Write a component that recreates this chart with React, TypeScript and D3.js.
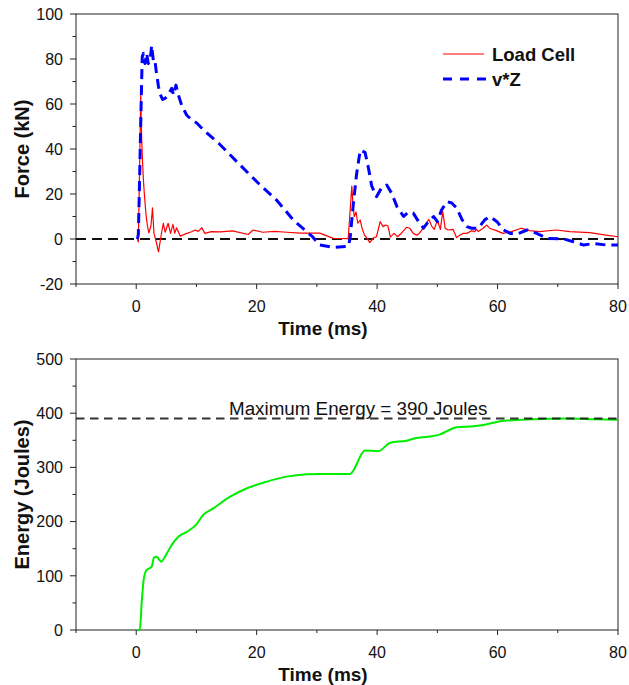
import React from "react";
import * as d3 from "d3";

// ---------- DATA ----------
const loadCellTime = [0.2, 0.35, 0.55, 0.75, 0.9, 1.05, 1.2, 1.35, 1.6, 1.85, 2.1, 2.45, 2.7, 2.95, 3.3, 3.7, 4.1, 4.5, 4.8, 5.3, 5.7, 6.1, 6.4, 6.7, 7.3, 8.4, 9.2, 9.8, 10.3, 10.9, 11.4, 12.5, 14, 16, 18.6, 19.4, 21, 23, 25, 27.2, 30.5, 32.7, 35.2, 35.8, 36.0, 36.2, 36.5, 36.8, 37.2, 37.5, 37.9, 38.3, 38.8, 39.4, 39.9, 40.5, 41, 41.4, 41.8, 42.2, 42.8, 43.4, 44.1, 44.9, 45.4, 46, 46.6, 47.1, 48, 48.6, 49.1, 49.5, 50, 50.5, 50.9, 51.3, 51.8, 52.6, 53.2, 53.7, 54.3, 54.9, 55.7, 56.2, 56.5, 56.8, 57.6, 58.2, 58.7, 59.8, 60.9, 62.3, 63.9, 65.3, 67, 69.7, 72, 75.3, 78, 80];
const loadCellForce = [0, -1.3, 30, 64, 45, 34, 26, 20, 11.5, 6, 2.7, 6, 13.8, 2.5, -1, -5.7, 1, 7, 3, 7, 2.5, 6.5, 2.6, 5, 1.3, 2.5, 3.2, 4, 3.4, 5, 2.5, 3.3, 3.2, 3.6, 2, 4, 3, 3.4, 3, 2.6, 2.6, 0.3, 0.2, 23.5, 15, 10, 12, 7, 8.4, 4.8, 1.7, 0.4, -1.6, 0.5, 1, 7.7, 5.5, 6.2, 5.8, 0.8, 2.5, 1, 2.8, 5.2, 4.8, 2.5, 1.7, 2.8, 6.2, 8.7, 5.5, 4.3, 8.4, 4.3, 12.2, 4.8, 4, 4.3, 0.6, 1.7, 2.5, 2.5, 3.7, 3.3, 4.3, 3.3, 4.8, 6.2, 4.8, 3.7, 2.5, 3.3, 4.8, 3.7, 3.3, 4, 3.3, 2.8, 1.7, 1];

const vzTime = [0.2, 0.35, 0.55, 0.7, 0.9, 1.0, 1.2, 1.46, 1.74, 2.0, 2.3, 2.57, 2.85, 3.1, 3.3, 3.7, 3.9, 4.4, 4.8, 5.3, 5.9, 6.2, 6.6, 7.0, 7.6, 8.4, 9.2, 10, 11.2, 13.9, 17.2, 20.2, 23.3, 26.1, 28.3, 29.2, 30.5, 32.7, 35.2, 35.5, 36.1, 36.6, 37.2, 38, 38.6, 39.1, 39.9, 40.8, 41.6, 42.4, 43.3, 44.4, 45.2, 46, 46.9, 47.7, 48.5, 49.4, 50, 50.7, 51.6, 52.4, 53.2, 54.1, 54.9, 55.7, 56.8, 57.9, 58.8, 59.9, 61, 62.1, 63.5, 64.9, 66.5, 68.2, 71, 72.6, 74.3, 75.9, 78.2, 80];
const vzForce = [0, 2, 25, 45, 70, 81, 82.5, 78, 82.5, 78, 79.5, 86, 79, 79.5, 75, 67.7, 64.7, 62, 62.5, 64, 67, 64, 68.4, 64, 59, 55, 53, 51.7, 48.4, 42, 33, 25, 17.3, 8.4, 3.3, 1.2, -2.7, -3.7, -3.3, 0, 17, 29, 39.5, 38.5, 31, 23.6, 18.8, 23, 24, 20.4, 14.4, 10, 12, 11.5, 7.7, 4.8, 7.7, 10, 7.7, 12.9, 16.6, 16, 13.8, 8.6, 5.5, 4.8, 4.8, 8.6, 9.9, 7.7, 4, 2.5, 2.5, 4, 2.5, 0.3, 0, -1.2, -2.7, -2, -2.7, -2.7];

const energyTime = [0.1, 0.6, 0.9, 1.3, 1.74, 2.2, 2.57, 2.96, 3.4, 3.8, 4.2, 4.6, 5.1, 5.9, 7.0, 8.4, 10, 11.1, 12.8, 15.6, 18.4, 21.7, 25, 28.3, 30.5, 33, 35.5, 38, 40.2, 42.2, 44.9, 46.3, 48.5, 50.5, 51.6, 53.2, 56, 57.9, 60.4, 63.2, 67.1, 71.5, 75.9, 80];
const energyValue = [0, 0, 49, 98, 111, 114, 117, 134, 135, 130, 126, 132, 141.6, 157, 172, 181, 195, 212, 224.5, 246, 261.5, 273.8, 283, 287.3, 288, 288, 288, 331, 330, 345.6, 349.3, 353.6, 356.7, 361, 367, 374, 376, 378.8, 385, 387.5, 389.3, 390, 389, 388];

const xTicksMajor = [0, 20, 40, 60, 80];
const xTicksMinor = [-10, 10, 30, 50, 70];
const forceTicksMajor = [-20, 0, 20, 40, 60, 80, 100];
const forceTicksMinor = [-10, 10, 30, 50, 70, 90];
const energyTicksMajor = [0, 100, 200, 300, 400, 500];
const energyTicksMinor = [50, 150, 250, 350, 450];
const maxEnergy = 390;

const legendLabels = ["Load Cell", "v*Z"];

// ---------- LAYOUT ----------
const W = 629;
const H = 685;
const left = 76;
const right = 618;
const top1 = 14;
const bot1 = 284;
const top2 = 359;
const bot2 = 630;
const FONT = "Liberation Sans, Arial, sans-serif";

export default function App() {
  const x = d3.scaleLinear().domain([-10, 80]).range([left, right]);
  const yF = d3.scaleLinear().domain([-20, 100]).range([bot1, top1]);
  const yE = d3.scaleLinear().domain([0, 500]).range([bot2, top2]);

  const lineF = (ts: number[], vs: number[]) =>
    d3.line<number>().x((_, i) => x(ts[i])).y((d) => yF(d))(vs) || "";
  const lineE =
    d3.line<number>().x((_, i) => x(energyTime[i])).y((d) => yE(d)).curve(d3.curveMonotoneX)(energyValue) || "";

  const axes = (y: d3.ScaleLinear<number, number>, bot: number, topY: number, yMaj: number[], yMin: number[], title: string) => (
    <g>
      <rect x={left} y={topY} width={right - left} height={bot - topY} fill="none" stroke="#222" strokeWidth={1} />
      {xTicksMajor.map((t) => (
        <g key={"xM" + t}>
          <line x1={x(t)} x2={x(t)} y1={bot} y2={bot + 5} stroke="#222" />
          <text x={x(t)} y={bot + 28} textAnchor="middle" fontSize={16} fontFamily={FONT} fill="#111">{t}</text>
        </g>
      ))}
      {xTicksMinor.map((t) => (
        <line key={"xm" + t} x1={x(t)} x2={x(t)} y1={bot} y2={bot + 3} stroke="#222" />
      ))}
      {yMaj.map((t) => (
        <g key={"yM" + t}>
          <line x1={left - 6} x2={left} y1={y(t)} y2={y(t)} stroke="#222" />
          <text x={63} y={y(t)} dy="0.36em" textAnchor="end" fontSize={16} fontFamily={FONT} fill="#111">{t}</text>
        </g>
      ))}
      {yMin.map((t) => (
        <line key={"ym" + t} x1={left - 3.5} x2={left} y1={y(t)} y2={y(t)} stroke="#222" />
      ))}
      <text x={(left + right) / 2 - 24} y={bot + 51} textAnchor="middle" fontSize={19} fontWeight="bold" fontFamily={FONT} fill="#111">Time (ms)</text>
      <text transform={`translate(29,${(topY + bot) / 2}) rotate(-90)`} textAnchor="middle" fontSize={20} fontWeight="bold" fontFamily={FONT} fill="#111">{title}</text>
    </g>
  );

  return (
    <svg width={W} height={H} style={{ position: "absolute", left: 0, top: 0, background: "#fff" }}>
      {/* Top panel */}
      {axes(yF, bot1, top1, forceTicksMajor, forceTicksMinor, "Force (kN)")}
      <line x1={left} x2={right} y1={yF(0)} y2={yF(0)} stroke="#111" strokeWidth={2} strokeDasharray="10,6" />
      <path d={lineF(loadCellTime, loadCellForce)} fill="none" stroke="#ff0000" strokeWidth={1.2} strokeLinejoin="round" />
      <path d={lineF(vzTime, vzForce)} fill="none" stroke="#0000ff" strokeWidth={3} strokeDasharray="10,6" strokeLinejoin="round" />
      {/* Legend */}
      <line x1={443} x2={484} y1={54} y2={54} stroke="#ff0000" strokeWidth={1.2} />
      <text x={492} y={61} fontSize={18.5} fontWeight="bold" fontFamily={FONT} fill="#111">{legendLabels[0]}</text>
      <line x1={443} x2={486} y1={79} y2={79} stroke="#0000ff" strokeWidth={3} strokeDasharray="9,8" />
      <text x={492} y={86} fontSize={18.5} fontWeight="bold" fontFamily={FONT} fill="#111">{legendLabels[1]}</text>

      {/* Bottom panel */}
      {axes(yE, bot2, top2, energyTicksMajor, energyTicksMinor, "Energy (Joules)")}
      <path d={lineE} fill="none" stroke="#00ee00" strokeWidth={2} strokeLinejoin="round" />
      <line x1={left} x2={right} y1={yE(maxEnergy)} y2={yE(maxEnergy)} stroke="#111" strokeWidth={2} strokeDasharray="8.5,5.5" opacity={0.85} />
      <text x={229} y={yE(maxEnergy) - 4} fontSize={18.8} fontFamily={FONT} fill="#111">{`Maximum Energy = ${maxEnergy} Joules`}</text>
    </svg>
  );
}
